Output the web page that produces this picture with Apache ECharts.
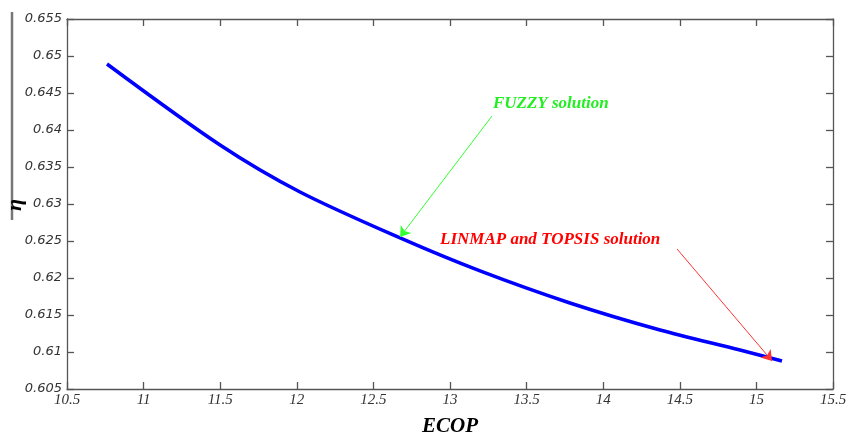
<!DOCTYPE html>
<html>
<head>
<meta charset="utf-8">
<script src="https://cdn.jsdelivr.net/npm/echarts@6/dist/echarts.min.js"></script>
<style>
  html, body { margin: 0; padding: 0; background: #fff; }
  #chart { width: 847px; height: 433px; }
</style>
</head>
<body>
<div id="chart"></div>
<script>
// pareto front
const ecop = [10.761, 11.499, 12.021, 12.674, 13.196, 13.783, 14.371, 14.893, 15.167];
const eta = [0.64892, 0.63797, 0.63162, 0.62541, 0.62095, 0.61662, 0.61297, 0.61027, 0.60878];

// annotation arrows: [start, end] in data units
const fuzzyArrow = [[13.274, 0.64189], [12.674, 0.62554]];
const linmapArrow = [[14.482, 0.62392], [15.102, 0.60880]];
const fuzzyText = [13.28, 0.64351];
const linmapText = [12.935, 0.62514];

document.addEventListener("DOMContentLoaded", function() {
    const chart = echarts.init(document.getElementById('chart'));

    const axisLine = {lineStyle: {color: '#555', width: 1.3}};
    const tick = {inside: true, length: 7, lineStyle: {color: '#555', width: 1.3}};

    const arrow = (pts, color) => ({
        symbol: ['none', 'arrow'],
        symbolSize: 10,
        silent: true,
        lineStyle: {color: color, width: 1, type: 'solid'},
        label: {show: false},
        data: [[{coord: pts[0]}, {coord: pts[1]}]]
    });

    chart.setOption({
        animation: false,
        grid: {left: 67, right: 14, top: 19, bottom: 44, outerBoundsMode: 'none'},
        xAxis: [
            {
                type: 'value', min: 10.5, max: 15.5, interval: 0.5,
                axisLine: axisLine, axisTick: tick, splitLine: {show: false},
                axisLabel: {
                    color: '#333', fontFamily: 'Liberation Serif', fontStyle: 'italic',
                    fontSize: 15, margin: 4
                },
                name: 'ECOP', nameLocation: 'middle', nameGap: 27,
                nameTextStyle: {
                    color: '#000', fontFamily: 'Liberation Serif', fontStyle: 'italic',
                    fontWeight: 'bold', fontSize: 21
                }
            },
            {
                type: 'value', position: 'top', min: 10.5, max: 15.5, interval: 0.5,
                axisLine: axisLine, axisTick: tick, axisLabel: {show: false}, splitLine: {show: false}
            }
        ],
        yAxis: [
            {
                type: 'value', min: 0.605, max: 0.655, interval: 0.005,
                axisLine: axisLine, axisTick: tick, splitLine: {show: false},
                axisLabel: {
                    color: '#333', fontFamily: 'DejaVu Sans', fontStyle: 'italic',
                    fontSize: 13, margin: 5,
                    formatter: v => +v.toFixed(3) + ''
                }
            },
            {
                type: 'value', position: 'right', min: 0.605, max: 0.655, interval: 0.005,
                axisLine: axisLine, axisTick: tick, axisLabel: {show: false}, splitLine: {show: false}
            }
        ],
        graphic: [
            {
                type: 'line', shape: {x1: 12, y1: 12, x2: 12, y2: 220},
                style: {stroke: '#777', lineWidth: 2.5}
            },
            {
                type: 'text', x: 15, y: 205, rotation: Math.PI / 2,
                style: {
                    text: 'η', fill: '#000', font: 'italic bold 22px "Liberation Serif"',
                    align: 'center', verticalAlign: 'middle'
                }
            }
        ],
        series: [
            {
                type: 'line',
                data: ecop.map((x, i) => [x, eta[i]]),
                smooth: 0.3,
                showSymbol: false,
                lineStyle: {color: '#0000ff', width: 3.5},
                markLine: arrow(fuzzyArrow, '#33ff33'),
                markPoint: {
                    symbolSize: 0,
                    silent: true,
                    data: [
                        {
                            coord: fuzzyText,
                            label: {
                                show: true, position: 'right', distance: 0,
                                formatter: 'FUZZY solution', color: '#22ee22',
                                fontFamily: 'Liberation Serif', fontStyle: 'italic',
                                fontWeight: 'bold', fontSize: 17
                            }
                        },
                        {
                            coord: linmapText,
                            label: {
                                show: true, position: 'right', distance: 0,
                                formatter: 'LINMAP and TOPSIS solution', color: '#ff0000',
                                fontFamily: 'Liberation Serif', fontStyle: 'italic',
                                fontWeight: 'bold', fontSize: 17
                            }
                        }
                    ]
                }
            },
            {
                type: 'line',
                data: [],
                markLine: arrow(linmapArrow, '#ff3333')
            }
        ]
    });
});
</script>
</body>
</html>
